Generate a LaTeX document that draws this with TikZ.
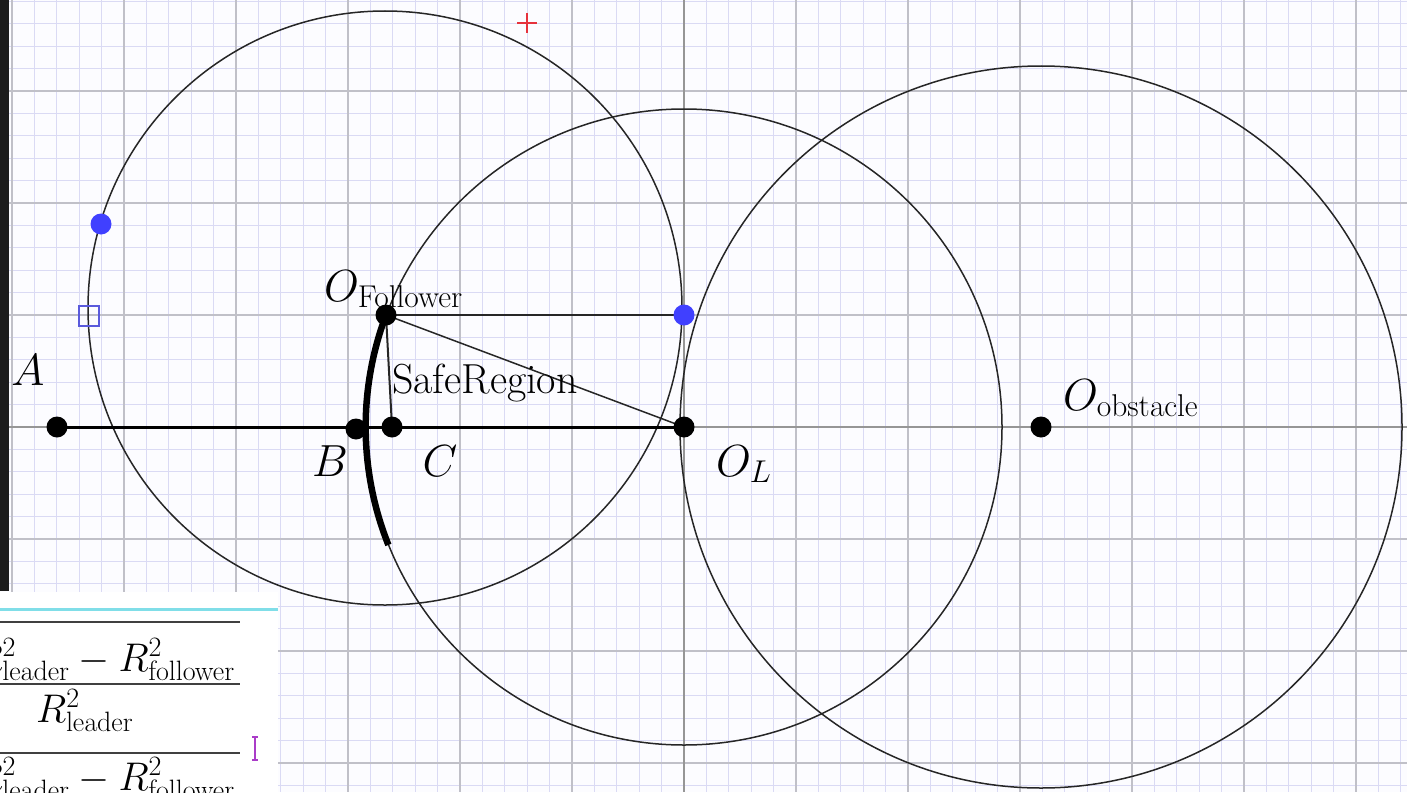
\RequirePackage{fix-cm}
\documentclass[tikz,border=0pt]{standalone}
\definecolor{bgc}{RGB}{252,252,255}
\definecolor{minorc}{RGB}{218,218,244}
\definecolor{majorc}{RGB}{192,192,200}
\definecolor{axisc}{RGB}{150,150,150}
\definecolor{bluep}{RGB}{64,64,255}
\definecolor{boxc}{RGB}{90,90,220}
\definecolor{redc}{RGB}{230,50,60}
\definecolor{cyanc}{RGB}{128,222,232}
\definecolor{purc}{RGB}{170,60,200}
\definecolor{barc}{RGB}{28,28,28}
\tikzset{
  minorline/.style={draw=minorc, line width=0.8pt},
  majorline/.style={draw=majorc, line width=1.1pt},
  axisline/.style={draw=axisc, line width=1.3pt},
  circ/.style={draw=black!85, line width=1.5pt},
  thinseg/.style={draw=black!85, line width=1.5pt},
  thickseg/.style={draw=black, line width=3pt},
  arcseg/.style={draw=black, line width=6.5pt},
  dotb/.style={circle, fill=black, inner sep=0pt, minimum size=21pt},
  dotblue/.style={circle, fill=bluep, inner sep=0pt, minimum size=21pt},
  lbl/.style={font=\fontsize{45}{52}\selectfont, inner sep=0pt},
  txt/.style={font=\fontsize{42}{48}\selectfont, inner sep=0pt},
  fr/.style={font=\fontsize{40}{46}\selectfont, inner sep=0pt},
}
\begin{document}
\begin{tikzpicture}[x=1pt,y=-1pt]
\useasboundingbox (0,0) rectangle (1407,792);
\fill[bgc] (0,0) rectangle (1407,792);
% grid
\foreach \k in {-30,...,32} \draw[minorline] ({684+22.4*\k},0) -- ++(0,792);
\foreach \k in {-19,...,16} \draw[minorline] (0,{427+22.4*\k}) -- ++(1407,0);
\foreach \k in {-6,...,6} \draw[majorline] ({684+112*\k},0) -- ++(0,792);
\foreach \k in {-3,...,3} \draw[majorline] (0,{427+112*\k}) -- ++(1407,0);
\draw[axisline] (684,0) -- (684,792);
\draw[axisline] (0,427) -- (1407,427);
% left dark bar
\fill[barc] (0,0) rectangle (9,591);
% points (coordinates)
\coordinate (A) at (57,427);
\coordinate (B) at (356,429);
\coordinate (C) at (392,427);
\coordinate (OL) at (684,427);
\coordinate (Oobs) at (1041,427);
\coordinate (OF) at (386,315);
\coordinate (P1) at (101,224);
\coordinate (P2) at (684,315);
\coordinate (Fc) at (385,308);
% circles
\draw[circ] (Fc) circle[radius=297];
\draw[circ] (OL) circle[radius=318];
\draw[circ] (Oobs) circle[radius=361];
% segments
\draw[thickseg] (A) -- (OL);
\draw[thinseg] (OF) -- (P2);
\draw[thinseg] (OF) -- (OL);
\draw[thinseg, line width=2pt] (OF) -- (C);
% thick arc of the leader circle
\draw[arcseg] (OF) arc[start angle=200.6, end angle=158.2, radius=318];
% point markers
\node[dotb] (nA) at (A) {};
\node[dotb] (nB) at (B) {};
\node[dotb] (nC) at (C) {};
\node[dotb] (nOL) at (OL) {};
\node[dotb] (nOobs) at (Oobs) {};
\node[dotb] (nOF) at (OF) {};
\node[dotblue] (nP1) at (P1) {};
\node[dotblue] (nP2) at (P2) {};
\node[draw=boxc, line width=1.2pt, minimum size=20pt, inner sep=0pt] (sq) at (89,316) {};
\draw[redc, line width=1.3pt] (517,23) -- (537,23) (527,13) -- (527,33);
% labels
\node[lbl] (lA) at (28,370) {$A$};
\node[lbl] (lB) at (330,461) {$B$};
\node[lbl] (lC) at (440,461) {$C$};
\node[lbl, anchor=west] (lOL) at (716,464) {$O_L$};
\node[lbl, anchor=west] (lOF) at (324,289) {$O_{\mathrm{Follower}}$};
\node[lbl, anchor=west] (lOobs) at (1063,398) {$O_{\mathrm{obstacle}}$};
\node[txt, anchor=west] (lSR) at (392,383) {SafeRegion};
% bottom-left panel
\fill[white] (0,592) rectangle (278,792);
\draw[cyanc, line width=3pt] (0,609) -- (278,609);
\begin{scope}
\clip (0,592) rectangle (278,792);
\draw[black!75, line width=2pt] (0,622) -- (240,622);
\draw[black!75, line width=2pt] (0,684) -- (240,684);
\draw[black!75, line width=2pt] (0,753) -- (240,753);
\node[fr, anchor=base east] (num) at (235,671) {$R^2_{\mathrm{leader}}-R^2_{\mathrm{follower}}$};
\node[fr, anchor=base west] (den) at (36,722) {$R^2_{\mathrm{leader}}$};
\node[fr, anchor=base east] (num2) at (235,790) {$R^2_{\mathrm{leader}}-R^2_{\mathrm{follower}}$};
\end{scope}
\draw[purc, line width=1.6pt] (255,737) -- (255,760) (252,737) -- (258,737) (252,760) -- (258,760);
\end{tikzpicture}
\end{document}
